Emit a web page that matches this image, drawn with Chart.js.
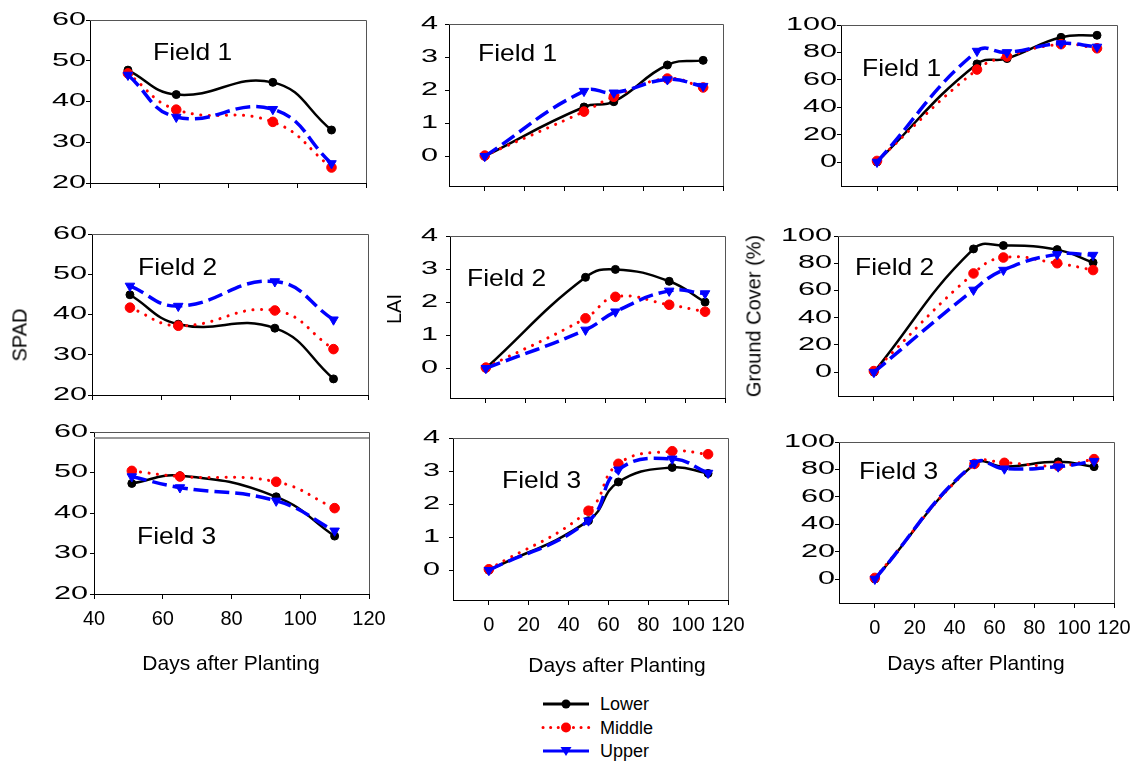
<!DOCTYPE html>
<html lang="en">
<head>
    <meta charset="UTF-8">
    <title>SPAD, LAI and Ground Cover</title>
    <style>
        body {
            margin: 0;
            background: #fff;
            font-family: "Liberation Sans", Arial, sans-serif;
        }
        #page {
            position: relative;
            width: 1136px;
            height: 762px;
            overflow: hidden;
        }
        .plot { position: absolute; }
        .lbl {
            position: absolute;
            white-space: nowrap;
            color: #000;
        }
        .field {
            font-size: 24px;
            line-height: 24px;
            transform: scaleX(1.1);
            transform-origin: left center;
        }
        .ytitle {
            font-size: 20px;
            transform: translate(-50%, -50%) rotate(-90deg);
        }
        .xtitle {
            font-size: 21px;
            transform: translate(-50%, -50%);
        }
    </style>
    <script src="https://cdn.jsdelivr.net/npm/chart.js"></script>
</head>
<body>
    <div id="page"></div>

    <script>
        // ---- data ----
        const seriesNames = ['Lower', 'Middle', 'Upper'];
        const fieldNames = ['Field 1', 'Field 2', 'Field 3'];

        const spadDays = [51, 65, 93, 110];
        const days = [0, 50, 65, 92, 110];

        const spadLower1 = [47.7, 41.7, 44.7, 33.0];
        const spadMiddle1 = [46.9, 38.0, 35.0, 23.8];
        const spadUpper1 = [46.5, 36.2, 38.1, 24.8];
        const spadLower2 = [44.9, 37.6, 36.6, 24.0];
        const spadMiddle2 = [41.7, 37.2, 41.0, 31.4];
        const spadUpper2 = [47.1, 42.1, 48.2, 38.7];
        const spadLower3 = [47.3, 49.2, 44.0, 34.3];
        const spadMiddle3 = [50.4, 49.0, 47.7, 41.2];
        const spadUpper3 = [49.0, 46.3, 43.0, 35.6];

        const laiLower1 = [0, 1.49, 1.65, 2.76, 2.9];
        const laiMiddle1 = [0.02, 1.35, 1.8, 2.35, 2.08];
        const laiUpper1 = [0, 1.97, 1.92, 2.32, 2.12];
        const laiLower2 = [0, 2.75, 2.99, 2.63, 2.0];
        const laiMiddle2 = [0.02, 1.51, 2.16, 1.92, 1.71];
        const laiUpper2 = [0, 1.16, 1.71, 2.34, 2.26];
        const laiLower3 = [0, 1.5, 2.67, 3.11, 2.93];
        const laiMiddle3 = [0.03, 1.8, 3.22, 3.6, 3.51];
        const laiUpper3 = [0, 1.5, 3.04, 3.37, 2.94];

        const gcLower1 = [0, 71.6, 75.5, 91, 92.5];
        const gcMiddle1 = [0.8, 67.5, 77, 86, 83];
        const gcUpper1 = [0, 81, 80, 86.5, 84];
        const gcLower2 = [0, 90.5, 93, 90, 80.5];
        const gcMiddle2 = [0.8, 72.5, 84.2, 80, 75];
        const gcUpper2 = [0, 60.4, 75, 86.5, 86];
        const gcLower3 = [0, 84, 82, 85.5, 82];
        const gcMiddle3 = [0.8, 84, 84.8, 82.5, 87.5];
        const gcUpper3 = [0, 84.5, 80.5, 82, 86];

        const spadXTicks = [40, 60, 80, 100, 120];
        const dayXTicks = [0, 20, 40, 60, 80, 100, 120];
        const spadYTicks = [20, 30, 40, 50, 60];
        const laiYTicks = [0, 1, 2, 3, 4];
        const gcYTicks = [0, 20, 40, 60, 80, 100];

        // ---- look ----
        const styles = [
            { color: '#000000', width: 2.5, dash: [], cap: 'butt', point: 'circle', radius: 4, rotation: 0, order: 2 },
            { color: '#ff0000', width: 3, dash: [0.1, 8.5], cap: 'round', point: 'circle', radius: 4.8, rotation: 0, order: 1 },
            { color: '#0000ff', width: 3.5, dash: [15, 6], cap: 'butt', point: 'triangle', radius: 5.5, rotation: 180, order: 0 }
        ];

        const AXW = 70, PT = 14, PR = 24;
        const Y_STRETCH = 1.7;
        const page = document.getElementById('page');

        // box = [left, top, right, bottom] of the plot area
        const panels = [
            { series: [spadLower1, spadMiddle1, spadUpper1], x: spadDays, xTicks: spadXTicks, yTicks: spadYTicks, xr: [40, 120], yr: [20, 60], box: [90, 20, 366, 183], yPad: 0, showX: false, field: 0, at: [153, 52] },
            { series: [spadLower2, spadMiddle2, spadUpper2], x: spadDays, xTicks: spadXTicks, yTicks: spadYTicks, xr: [40, 120], yr: [20, 60], box: [92, 234, 368, 395], yPad: 1, showX: false, field: 1, at: [138, 267] },
            { series: [spadLower3, spadMiddle3, spadUpper3], x: spadDays, xTicks: spadXTicks, yTicks: spadYTicks, xr: [40, 120], yr: [20, 60], box: [94, 432, 369, 594], yPad: 2, showX: true, field: 2, at: [137, 536], extraTop: 6 },
            { series: [laiLower1, laiMiddle1, laiUpper1], x: days, xTicks: dayXTicks, yTicks: laiYTicks, xr: [-18, 120], yr: [-0.9, 4], box: [449, 24, 723, 186], yPad: 7, showX: false, field: 0, at: [478, 53] },
            { series: [laiLower2, laiMiddle2, laiUpper2], x: days, xTicks: dayXTicks, yTicks: laiYTicks, xr: [-18, 120], yr: [-0.9, 4], box: [450, 236, 725, 398], yPad: 8, showX: false, field: 1, at: [467, 278] },
            { series: [laiLower3, laiMiddle3, laiUpper3], x: days, xTicks: dayXTicks, yTicks: laiYTicks, xr: [-18, 120], yr: [-0.9, 4], box: [453, 438, 728, 600], yPad: 9, showX: true, field: 2, at: [502, 480] },
            { series: [gcLower1, gcMiddle1, gcUpper1], x: days, xTicks: dayXTicks, yTicks: gcYTicks, xr: [-18, 120], yr: [-17.5, 100], box: [841, 25, 1117, 186], yPad: 0, showX: false, field: 0, at: [862, 68] },
            { series: [gcLower2, gcMiddle2, gcUpper2], x: days, xTicks: dayXTicks, yTicks: gcYTicks, xr: [-18, 120], yr: [-17.5, 100], box: [838, 236, 1113, 396], yPad: 2, showX: false, field: 1, at: [855, 267] },
            { series: [gcLower3, gcMiddle3, gcUpper3], x: days, xTicks: dayXTicks, yTicks: gcYTicks, xr: [-18, 120], yr: [-17.5, 100], box: [839, 442, 1114, 603], yPad: 0, showX: true, field: 2, at: [859, 471] }
        ];

        const axisTitles = [
            { text: 'SPAD', cls: 'ytitle', at: [20, 335] },
            { text: 'LAI', cls: 'ytitle', at: [394, 309] },
            { text: 'Ground Cover (%)', cls: 'ytitle', at: [754, 316] },
            { text: 'Days after Planting', cls: 'xtitle', at: [231, 663] },
            { text: 'Days after Planting', cls: 'xtitle', at: [617, 665] },
            { text: 'Days after Planting', cls: 'xtitle', at: [976, 663] }
        ];

        // top and right sides of the box
        const framePlugin = {
            id: 'frame',
            afterDraw(chart, args, opts) {
                const { left, top, right, bottom } = chart.chartArea;
                const ctx = chart.ctx;
                ctx.save();
                ctx.strokeStyle = '#555';
                ctx.lineWidth = 1;
                ctx.beginPath();
                ctx.moveTo(left, top + 0.5);
                ctx.lineTo(right + 0.5, top + 0.5);
                ctx.lineTo(right + 0.5, bottom);
                ctx.stroke();
                if (opts.extraTop) {
                    ctx.strokeStyle = '#999';
                    ctx.lineWidth = 2;
                    ctx.beginPath();
                    ctx.moveTo(left, top + opts.extraTop);
                    ctx.lineTo(right, top + opts.extraTop);
                    ctx.stroke();
                }
                ctx.restore();
            }
        };

        // y tick numbers in the original are drawn wide
        function widenLabels(scale) {
            if (scale._wide) return;
            scale._wide = true;
            const draw = scale.drawLabels.bind(scale);
            scale.drawLabels = function (area) {
                const o = this.options;
                const ax = this.right - o.grid.tickLength - o.ticks.padding;
                const ctx = this.ctx;
                ctx.save();
                ctx.translate(ax, 0);
                ctx.scale(Y_STRETCH, 1);
                ctx.translate(-ax, 0);
                draw(area);
                ctx.restore();
            };
        }

        function makePanel(p) {
            const [l, t, r, b] = p.box;
            const axh = p.showX ? 55 : 30;
            const div = document.createElement('div');
            div.className = 'plot';
            div.style.left = (l - AXW) + 'px';
            div.style.top = (t - PT) + 'px';
            div.style.width = (r - l + AXW + PR) + 'px';
            div.style.height = (b - t + PT + axh) + 'px';
            const cv = document.createElement('canvas');
            div.appendChild(cv);
            page.appendChild(div);

            new Chart(cv, {
                type: 'line',
                data: {
                    datasets: p.series.map((vals, i) => ({
                        label: seriesNames[i],
                        data: vals.map((v, k) => ({ x: p.x[k], y: v })),
                        borderColor: styles[i].color,
                        backgroundColor: styles[i].color,
                        borderWidth: styles[i].width,
                        borderDash: styles[i].dash,
                        borderCapStyle: styles[i].cap,
                        pointStyle: styles[i].point,
                        pointRadius: styles[i].radius,
                        pointRotation: styles[i].rotation,
                        pointBackgroundColor: styles[i].color,
                        pointBorderColor: styles[i].color,
                        pointBorderWidth: 1,
                        tension: 0.45,
                        order: styles[i].order,
                        fill: false
                    }))
                },
                options: {
                    responsive: true,
                    maintainAspectRatio: false,
                    animation: false,
                    layout: { padding: { top: PT, right: PR, left: 0, bottom: 0 }, autoPadding: false },
                    plugins: {
                        legend: { display: false },
                        tooltip: { enabled: false },
                        frame: { extraTop: p.extraTop || 0 }
                    },
                    scales: {
                        x: {
                            type: 'linear',
                            min: p.xr[0],
                            max: p.xr[1],
                            afterBuildTicks: s => { s.ticks = p.xTicks.map(v => ({ value: v })); },
                            afterFit: s => {
                                s.height = axh;
                                s.paddingLeft = 0;
                                s.paddingRight = 0;
                            },
                            grid: { drawOnChartArea: false, drawTicks: true, tickLength: 5, color: '#000' },
                            border: { color: '#000', width: 1 },
                            ticks: {
                                display: p.showX,
                                autoSkip: false,
                                maxRotation: 0,
                                minRotation: 0,
                                padding: 8,
                                color: '#000',
                                font: { family: 'Liberation Sans', size: 20 }
                            }
                        },
                        y: {
                            type: 'linear',
                            min: p.yr[0],
                            max: p.yr[1],
                            afterBuildTicks: s => { s.ticks = p.yTicks.map(v => ({ value: v })); },
                            afterFit: s => {
                                s.width = AXW;
                                s.paddingTop = 0;
                                s.paddingBottom = 0;
                                widenLabels(s);
                            },
                            grid: { drawOnChartArea: false, drawTicks: true, tickLength: 4, color: '#000' },
                            border: { color: '#000', width: 1 },
                            ticks: {
                                padding: p.yPad,
                                color: '#000',
                                font: { family: 'Liberation Sans', size: 18 }
                            }
                        }
                    }
                },
                plugins: [framePlugin]
            });

            const f = document.createElement('div');
            f.className = 'lbl field';
            f.textContent = fieldNames[p.field];
            f.style.left = p.at[0] + 'px';
            f.style.top = (p.at[1] - 12) + 'px';
            page.appendChild(f);
        }

        panels.forEach(makePanel);

        axisTitles.forEach(a => {
            const d = document.createElement('div');
            d.className = 'lbl ' + a.cls;
            d.textContent = a.text;
            d.style.left = a.at[0] + 'px';
            d.style.top = a.at[1] + 'px';
            page.appendChild(d);
        });

        // legend
        const svgNS = 'http://www.w3.org/2000/svg';
        const svg = document.createElementNS(svgNS, 'svg');
        svg.setAttribute('width', 200);
        svg.setAttribute('height', 72);
        svg.style.position = 'absolute';
        svg.style.left = '530px';
        svg.style.top = '690px';
        seriesNames.forEach((name, i) => {
            const y = 14 + i * 23.5;
            const st = styles[i];
            const ln = document.createElementNS(svgNS, 'line');
            ln.setAttribute('x1', 13); ln.setAttribute('x2', 59);
            ln.setAttribute('y1', y); ln.setAttribute('y2', y);
            ln.setAttribute('stroke', st.color);
            ln.setAttribute('stroke-width', 3);
            if (i === 1) {
                ln.setAttribute('stroke-dasharray', '0.1 7.5');
                ln.setAttribute('stroke-linecap', 'round');
            }
            svg.appendChild(ln);
            let mk;
            if (st.point === 'triangle') {
                mk = document.createElementNS(svgNS, 'polygon');
                mk.setAttribute('points', `${36 - 5.5},${y - 4} ${36 + 5.5},${y - 4} 36,${y + 5}`);
            } else {
                mk = document.createElementNS(svgNS, 'circle');
                mk.setAttribute('cx', 36); mk.setAttribute('cy', y);
                mk.setAttribute('r', i === 0 ? 4.5 : 5);
            }
            mk.setAttribute('fill', st.color);
            svg.appendChild(mk);
            const tx = document.createElementNS(svgNS, 'text');
            tx.setAttribute('x', 70);
            tx.setAttribute('y', y + 6);
            tx.setAttribute('font-family', 'Liberation Sans, Arial, sans-serif');
            tx.setAttribute('font-size', 18);
            tx.textContent = name;
            svg.appendChild(tx);
        });
        page.appendChild(svg);
    </script>
</body>
</html>
